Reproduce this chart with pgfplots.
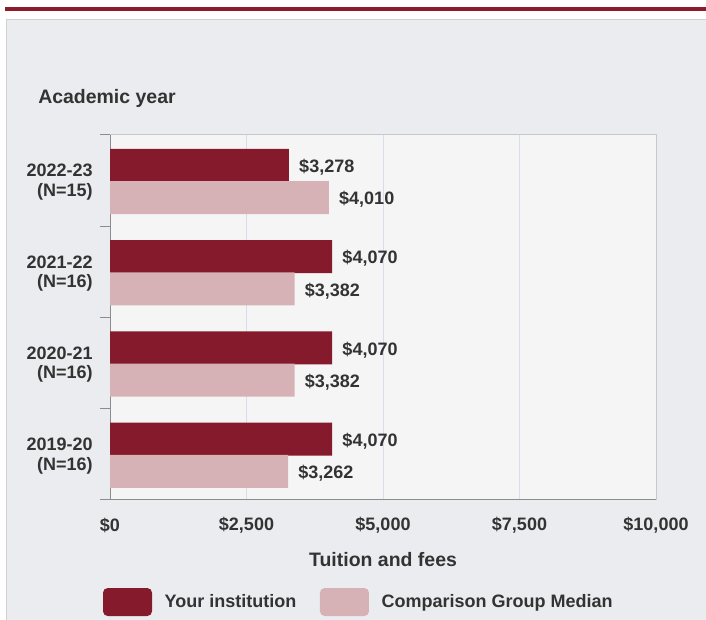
\documentclass[border=0pt]{standalone}
\usepackage{pgfplots}
\pgfplotsset{compat=1.18}
\usepackage{fontspec}
\setmainfont{Liberation Sans}
\definecolor{maroon}{HTML}{841A2B}
\definecolor{pinkish}{HTML}{D6B1B6}
\definecolor{topbar}{HTML}{8A1C2E}
\definecolor{panel}{HTML}{EBECEF}
\definecolor{panelborder}{HTML}{D2D2D2}
\definecolor{plotbg}{HTML}{F5F5F5}
\definecolor{gridblue}{HTML}{D7DDEC}
\definecolor{axisgray}{HTML}{8C8C8C}
\definecolor{framegray}{HTML}{C8C8C8}
\definecolor{txt}{HTML}{333333}
\newcommand\lab{\fontsize{13.5}{14.5}\selectfont\bfseries}
\newcommand\ttl{\fontsize{14.6}{16}\selectfont\bfseries}
\pgfplotsset{
  mylegend/.style={legend image code/.code={%
    \fill[##1, rounded corners=3.5pt] (0pt,-10.5pt) rectangle (36.75pt,10.5pt);
    \path (44.25pt,0pt);}},
}
\begin{document}
\begin{tikzpicture}
\begin{scope}[x=0.75pt,y=-0.75pt,shift={(0pt,465pt)}]
  \fill[white] (0,0) rectangle (706,620);
  \fill[topbar] (5,7) rectangle (706,11);
  \filldraw[fill=panel, draw=panelborder, line width=0.75pt] (6.5,19.5) rectangle (708,622);
  \node[anchor=west, inner sep=0pt, font=\ttl, text=txt] at (38,98.5) {Academic year};
\end{scope}
\begin{axis}[
  at={(82.5pt,90pt)}, anchor=south west,
  scale only axis, width=409.5pt, height=273.75pt,
  xmin=0, xmax=10000, ymin=-0.5, ymax=3.5,
  axis background/.style={fill=plotbg},
  axis lines*=left,
  axis line style={draw=axisgray, line width=0.75pt},
  major tick length=0pt,
  scaled x ticks=false,
  xtick={0,2500,5000,7500,10000},
  xticklabels={{\$0},{\$2,500},{\$5,000},{\$7,500},{\$10,000}},
  xmajorgrids,
  grid style={gridblue, line width=0.75pt},
  ytick={0,1,2,3},
  yticklabels={{2019-20\\(N=16)},{2020-21\\(N=16)},{2021-22\\(N=16)},{2022-23\\(N=15)}},
  extra y ticks={-0.5,0.5,1.5,2.5,3.5},
  extra y tick labels={},
  extra y tick style={major tick length=7.5pt, tick align=outside, tick style={draw=axisgray, line width=0.75pt}},
  xticklabel style={anchor=center, inner sep=0pt, yshift=-18.75pt, font=\lab, text=txt},
  yticklabel style={align=right, anchor=east, inner sep=0pt, xshift=-12.75pt, yshift=-1.2pt, font=\lab, text=txt},
  xlabel={Tuition and fees},
  xlabel style={at={(axis description cs:0.5,0)}, anchor=center, yshift=-45pt, font=\ttl, text=txt},
  point meta=x,
  nodes near coords={\$\pgfmathprintnumber[assume math mode=true, fixed, precision=0, 1000 sep={,}]{\pgfplotspointmeta}},
  nodes near coords style={anchor=west, inner sep=0pt, xshift=7.5pt, font=\lab, text=txt},
  legend style={at={(axis description cs:-0.0128,-0.2795)}, anchor=west, draw=none, fill=none,
    inner sep=0pt, outer sep=0pt, font=\lab, text=txt,
    /tikz/every even column/.append style={column sep=15.75pt}},
  legend columns=2,
  legend cell align=left,
]
\addplot[xbar, bar width=24.75pt, bar shift=11.5pt, fill=maroon, draw=none, mylegend,
  every node near coord/.append style={yshift=10pt}]
  coordinates {(4070,0) (4070,1) (4070,2) (3278,3)};
\addplot[xbar, bar width=24.75pt, bar shift=-12.8pt, fill=pinkish, draw=none, mylegend,
  every node near coord/.append style={yshift=-14.3pt}]
  coordinates {(3262,0) (3382,1) (3382,2) (4010,3)};
\legend{Your institution, Comparison Group Median}
\end{axis}
\begin{scope}[x=0.75pt,y=-0.75pt,shift={(0pt,465pt)}]
  \draw[framegray, line width=0.75pt] (110,135) -- (656,135) -- (656,500);
\end{scope}
\pgfresetboundingbox
\useasboundingbox (0,0) rectangle (529.5pt,465pt);
\end{tikzpicture}
\end{document}
